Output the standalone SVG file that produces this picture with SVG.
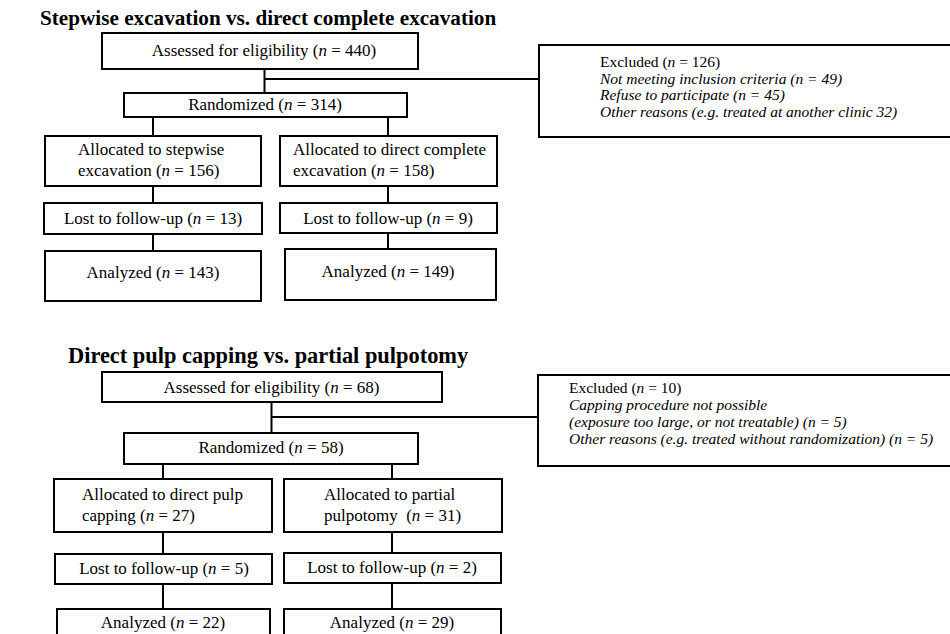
<svg xmlns="http://www.w3.org/2000/svg" width="950" height="634" viewBox="0 0 950 634">
<style>
text{font-family:"Liberation Serif","Times New Roman",serif;fill:#000}
.t{font-weight:bold}
.b{font-size:17px}
.c{text-anchor:middle}
.x{font-size:15.5px}
.i{font-style:italic}
rect{fill:#fff;stroke:#000;stroke-width:2}
#connectors line{stroke:#000;stroke-width:2}
</style>
<rect x="0" y="0" width="950" height="634" style="fill:#fff;stroke:none"/>
<text class="t" x="40" y="25" font-size="21.2">Stepwise excavation vs. direct complete excavation</text>
<text class="t" x="68" y="363" font-size="22.4">Direct pulp capping vs. partial pulpotomy</text>
<g id="connectors">
<line x1="264.5" y1="69" x2="264.5" y2="93"/>
<line x1="264.5" y1="79" x2="539" y2="79"/>
<line x1="153" y1="117" x2="153" y2="136"/>
<line x1="388" y1="117" x2="388" y2="136"/>
<line x1="153" y1="186" x2="153" y2="203"/>
<line x1="388" y1="186" x2="388" y2="203"/>
<line x1="153" y1="234" x2="153" y2="251"/>
<line x1="388" y1="233" x2="388" y2="249"/>
<line x1="271.5" y1="402" x2="271.5" y2="433"/>
<line x1="271.5" y1="417" x2="538" y2="417"/>
<line x1="163" y1="464" x2="163" y2="479"/>
<line x1="392" y1="464" x2="392" y2="479"/>
<line x1="163" y1="532" x2="163" y2="554"/>
<line x1="392" y1="532" x2="392" y2="553"/>
<line x1="163" y1="584" x2="163" y2="609"/>
<line x1="392" y1="583" x2="392" y2="609"/>
</g>
<g id="assessed1"><rect x="102" y="33" width="316" height="36"/><text class="b c" x="264" y="56">Assessed for eligibility (<tspan class="i">n</tspan> = 440)</text></g>
<g id="randomized1"><rect x="124" y="93" width="283" height="24"/><text class="b c" x="265" y="110">Randomized (<tspan class="i">n</tspan> = 314)</text></g>
<g id="alloc1L"><rect x="45" y="136" width="216" height="50"/><text class="b" x="78" y="155">Allocated to stepwise</text><text class="b" x="78" y="176">excavation (<tspan class="i">n</tspan> = 156)</text></g>
<g id="alloc1R"><rect x="280" y="136" width="217" height="50"/><text class="b" x="293" y="155">Allocated to direct complete</text><text class="b" x="293" y="176">excavation (<tspan class="i">n</tspan> = 158)</text></g>
<g id="lost1L"><rect x="44" y="203" width="218" height="31"/><text class="b c" x="153" y="224">Lost to follow-up (<tspan class="i">n</tspan> = 13)</text></g>
<g id="lost1R"><rect x="280" y="203" width="217" height="30"/><text class="b c" x="388" y="224">Lost to follow-up (<tspan class="i">n</tspan> = 9)</text></g>
<g id="analyzed1L"><rect x="45" y="251" width="216" height="50"/><text class="b c" x="153" y="278">Analyzed (<tspan class="i">n</tspan> = 143)</text></g>
<g id="analyzed1R"><rect x="285" y="249" width="211" height="51"/><text class="b c" x="388" y="277">Analyzed (<tspan class="i">n</tspan> = 149)</text></g>
<g id="excluded1"><rect x="539" y="45" width="420" height="92"/>
<text class="x" x="600" y="67">Excluded (<tspan class="i">n</tspan> = 126)</text>
<text class="x i" x="600" y="83.5">Not meeting inclusion criteria (n = 49)</text>
<text class="x i" x="600" y="100">Refuse to participate (n = 45)</text>
<text class="x i" x="600" y="116.5">Other reasons (e.g. treated at another clinic 32)</text></g>
<g id="assessed2"><rect x="102" y="372" width="340" height="30"/><text class="b c" x="271.5" y="393">Assessed for eligibility (<tspan class="i">n</tspan> = 68)</text></g>
<g id="randomized2"><rect x="124" y="433" width="294" height="31"/><text class="b c" x="271" y="453">Randomized (<tspan class="i">n</tspan> = 58)</text></g>
<g id="alloc2L"><rect x="54" y="479" width="218" height="53"/><text class="b" x="82" y="500">Allocated to direct pulp</text><text class="b" x="82" y="521">capping (<tspan class="i">n</tspan> = 27)</text></g>
<g id="alloc2R"><rect x="284" y="479" width="218" height="53"/><text class="b" x="324" y="500">Allocated to partial</text><text class="b" x="324" y="521" xml:space="preserve">pulpotomy  (<tspan class="i">n</tspan> = 31)</text></g>
<g id="lost2L"><rect x="55" y="554" width="217" height="30"/><text class="b c" x="164" y="574">Lost to follow-up (<tspan class="i">n</tspan> = 5)</text></g>
<g id="lost2R"><rect x="284" y="553" width="217" height="30"/><text class="b c" x="392" y="573">Lost to follow-up (<tspan class="i">n</tspan> = 2)</text></g>
<g id="analyzed2L"><rect x="57" y="609" width="213" height="40"/><text class="b c" x="163" y="628">Analyzed (<tspan class="i">n</tspan> = 22)</text></g>
<g id="analyzed2R"><rect x="284" y="609" width="217" height="40"/><text class="b c" x="392" y="628">Analyzed (<tspan class="i">n</tspan> = 29)</text></g>
<g id="excluded2"><rect x="538" y="375" width="420" height="91"/>
<text class="x" x="569" y="393">Excluded (<tspan class="i">n</tspan> = 10)</text>
<text class="x i" x="569" y="410">Capping procedure not possible</text>
<text class="x i" x="569" y="427">(exposure too large, or not treatable) (n = 5)</text>
<text class="x i" x="569" y="444">Other reasons (e.g. treated without randomization) (n = 5)</text></g>
</svg>
